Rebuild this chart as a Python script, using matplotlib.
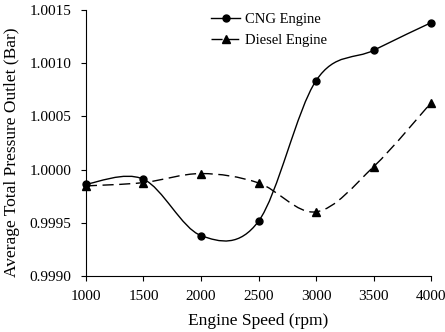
import numpy as np
import matplotlib
matplotlib.use("Agg")
import matplotlib.pyplot as plt
from matplotlib.path import Path
from matplotlib.patches import PathPatch
from matplotlib.lines import Line2D
from matplotlib.ticker import FormatStrFormatter

plt.rcParams['font.family'] = ['Liberation Serif', 'DejaVu Serif']

# data
speed = [1000, 1500, 2000, 2500, 3000, 3500, 4000]
cng = [0.999862, 0.999909, 0.999379, 0.999514, 1.000836, 1.001121, 1.001381]
diesel = [0.999846, 0.999877, 0.999962, 0.999874, 0.999602, 1.000027, 1.000629]


def smooth_path(xs, ys):
    # Excel-like smoothed line: cubic bezier segments (catmull-rom control points)
    p = np.column_stack([xs, ys]).astype(float)
    n = len(p)
    verts = [p[0]]
    codes = [Path.MOVETO]
    for i in range(n - 1):
        prev = p[i - 1] if i > 0 else p[i]
        nxt = p[i + 2] if i + 2 < n else p[i + 1]
        c1 = p[i] + (p[i + 1] - prev) / 6
        c2 = p[i + 1] - (nxt - p[i]) / 6
        verts += [c1, c2, p[i + 1]]
        codes += [Path.CURVE4] * 3
    return Path(verts, codes)


fig = plt.figure(figsize=(4.45, 3.32), dpi=100)
ax = fig.add_axes([0.193, 0.169, 0.776, 0.801])

dash = (0, (8, 4))
ax.add_patch(PathPatch(smooth_path(speed, cng), facecolor='none',
                       edgecolor='black', lw=1.0))
ax.add_patch(PathPatch(smooth_path(speed, diesel), facecolor='none',
                       edgecolor='black', lw=1.0, linestyle=dash))
ax.plot(speed, cng, 'o', color='black', ms=5, clip_on=False)
ax.plot(speed, diesel, '^', color='black', ms=5.5, clip_on=False)

ax.set_xlim(1000, 4000)
ax.set_ylim(0.9990, 1.0015)
ax.set_xticks(speed)
ax.set_yticks([0.9990, 0.9995, 1.0000, 1.0005, 1.0010, 1.0015])
ax.yaxis.set_major_formatter(FormatStrFormatter('%.4f'))
ax.tick_params(labelsize=11, length=3.5, width=0.8, direction='out', pad=7)

for s in ['top', 'right']:
    ax.spines[s].set_visible(False)
for s in ['left', 'bottom']:
    ax.spines[s].set_linewidth(0.8)

ax.set_xlabel('Engine Speed (rpm)', fontsize=12.5)
ax.set_ylabel('Average Total Pressure Outlet (Bar)', fontsize=12.5)
ax.xaxis.set_label_coords(0.5, -0.14)
ax.yaxis.set_label_coords(-0.19, 0.466)

handles = [
    Line2D([], [], color='black', marker='o', ms=5, lw=1.0),
    Line2D([], [], color='black', marker='^', ms=5.5, lw=1.0, linestyle=dash),
]
fig.legend(handles, ['CNG Engine', 'Diesel Engine'], loc='upper left',
           bbox_to_anchor=(0.445, 1.0), frameon=False, fontsize=10.5,
           handlelength=2.0, handletextpad=0.35, labelspacing=0.5)

fig.savefig('out.png', dpi=100)
